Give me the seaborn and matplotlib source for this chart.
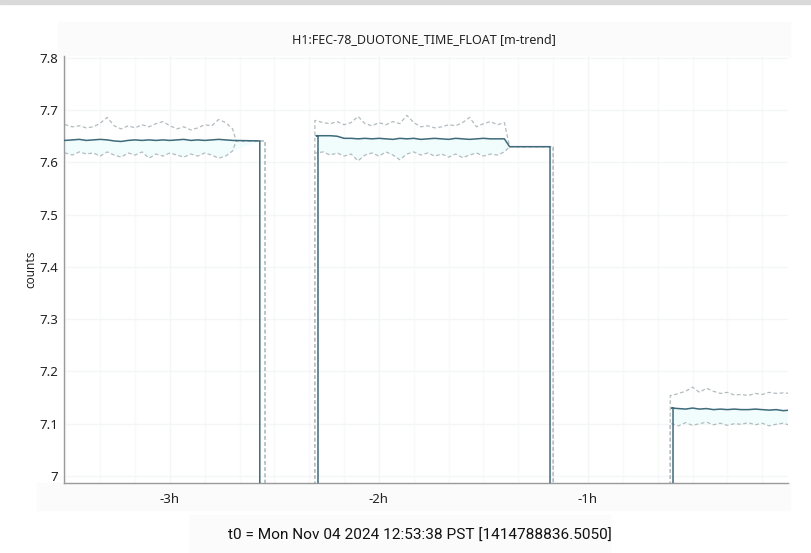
import numpy as np
import matplotlib.pyplot as plt
import seaborn as sns
from matplotlib.patches import Rectangle
from matplotlib.ticker import FuncFormatter, MultipleLocator

sns.set_theme(style='white')
plt.rcParams['font.family'] = ['Noto Sans', 'DejaVu Sans']

# minute-trend data, time in minutes relative to t0
# segment 1
seg1_t = [-212, -210, -208, -206, -204, -202, -200, -198, -196, -194, -192, -190, -188,
          -186, -184, -182, -180, -178, -176, -174, -172, -170, -168, -166, -164, -162]
seg1_mean = [7.643, 7.642, 7.643, 7.644, 7.642, 7.643, 7.644, 7.643, 7.641, 7.640, 7.642, 7.643, 7.642,
             7.643, 7.642, 7.643, 7.642, 7.643, 7.644, 7.642, 7.643, 7.642, 7.643, 7.644, 7.643, 7.642]
seg1_max = [7.670, 7.672, 7.668, 7.670, 7.666, 7.668, 7.675, 7.686, 7.670, 7.664, 7.670, 7.666, 7.672,
            7.668, 7.674, 7.678, 7.670, 7.664, 7.668, 7.662, 7.666, 7.672, 7.670, 7.682, 7.676, 7.664]
seg1_min = [7.616, 7.618, 7.614, 7.620, 7.616, 7.618, 7.612, 7.620, 7.614, 7.610, 7.618, 7.614, 7.620,
            7.608, 7.616, 7.612, 7.618, 7.614, 7.610, 7.616, 7.612, 7.618, 7.614, 7.608, 7.612, 7.622]
seg1_flat = 7.641
seg1_mean_end, seg1_band_end = -154.2, -152.7

# segment 2
seg2_t = [-138, -136, -134, -132, -130, -128, -126, -124, -122, -120, -118, -116, -114, -112,
          -110, -108, -106, -104, -102, -100, -98, -96, -94, -92, -90, -88, -86, -84]
seg2_mean = [7.651, 7.651, 7.651, 7.650, 7.646, 7.646, 7.645, 7.646, 7.645, 7.646, 7.645, 7.644, 7.646, 7.645,
             7.646, 7.644, 7.645, 7.646, 7.645, 7.644, 7.646, 7.645, 7.644, 7.645, 7.646, 7.645, 7.645, 7.645]
seg2_max = [7.680, 7.676, 7.674, 7.678, 7.672, 7.676, 7.688, 7.674, 7.670, 7.676, 7.672, 7.678, 7.674, 7.690,
            7.676, 7.668, 7.670, 7.666, 7.668, 7.672, 7.670, 7.676, 7.686, 7.668, 7.674, 7.678, 7.672, 7.676]
seg2_min = [7.618, 7.620, 7.614, 7.618, 7.612, 7.616, 7.603, 7.614, 7.618, 7.612, 7.620, 7.614, 7.605, 7.616,
            7.620, 7.614, 7.618, 7.612, 7.616, 7.610, 7.616, 7.609, 7.614, 7.618, 7.612, 7.616, 7.614, 7.620]
seg2_flat = 7.630
seg2_flat_start = -82.5
seg2_band_start, seg2_mean_start = -138.4, -137.5
seg2_mean_end, seg2_band_end = -70.9, -70.0

# segment 3
seg3_t = [-36, -34, -32, -30, -28, -26, -24, -22, -20, -18, -16, -14, -12, -10, -8, -6, -4, -2]
seg3_mean = [7.130, 7.129, 7.128, 7.130, 7.128, 7.129, 7.127, 7.128, 7.127,
             7.128, 7.127, 7.127, 7.128, 7.127, 7.126, 7.127, 7.125, 7.126]
seg3_max = [7.154, 7.158, 7.162, 7.170, 7.160, 7.168, 7.162, 7.158, 7.160,
            7.155, 7.156, 7.154, 7.158, 7.156, 7.160, 7.158, 7.159, 7.158]
seg3_min = [7.100, 7.096, 7.102, 7.097, 7.100, 7.103, 7.098, 7.101, 7.097,
            7.100, 7.099, 7.102, 7.098, 7.101, 7.096, 7.099, 7.101, 7.097]
seg3_band_start, seg3_mean_start = -36.4, -35.6
gap_value = 0.0

x_ticks = [-180, -120, -60]
x_tick_labels = ['-3h', '-2h', '-1h']
y_ticks = [7.0, 7.1, 7.2, 7.3, 7.4, 7.5, 7.6, 7.7, 7.8]
title = 'H1:FEC-78_DUOTONE_TIME_FLOAT [m-trend]'
t0_label = 't0 = Mon Nov 04 2024 12:53:38 PST [1414788836.5050]'

# assemble the traces (gaps drop to zero, off the bottom of the view)
mean_t = (seg1_t + [seg1_mean_end, seg1_mean_end, seg2_mean_start, seg2_mean_start] + seg2_t
          + [seg2_flat_start, seg2_mean_end, seg2_mean_end, seg3_mean_start, seg3_mean_start] + seg3_t)
mean_v = (seg1_mean + [seg1_flat, gap_value, gap_value, seg2_mean[0]] + seg2_mean
          + [seg2_flat, seg2_flat, gap_value, gap_value, seg3_mean[0]] + seg3_mean)
band_t = (seg1_t + [-161.0, seg1_band_end, seg1_band_end, seg2_band_start, seg2_band_start] + seg2_t
          + [seg2_flat_start, seg2_band_end, seg2_band_end, seg3_band_start, seg3_band_start] + seg3_t)
band_hi = (seg1_max + [seg1_flat, seg1_flat, gap_value, gap_value, seg2_max[0]] + seg2_max
           + [seg2_flat, seg2_flat, gap_value, gap_value, seg3_max[0]] + seg3_max)
band_lo = (seg1_min + [seg1_flat, seg1_flat, gap_value, gap_value, seg2_min[0]] + seg2_min
           + [seg2_flat, seg2_flat, gap_value, gap_value, seg3_min[0]] + seg3_min)

MEAN_COLOR = '#3e6a7a'
BAND_COLOR = '#b3bbbf'
FILL_COLOR = '#f1fcfc'

fig = plt.figure(figsize=(8.12, 5.53), dpi=100, facecolor='white')

# panel backgrounds (title strip, axis strip, t0 strip, window border)
panels = [((0, 1 - 4 / 553), 1, 4 / 553, '#d9d9d9'),
          ((58 / 812, 1 - 57 / 553), 732 / 812, 35 / 553, '#fbfbfb'),
          ((37 / 812, 1 - 510 / 553), 753 / 812, 27 / 553, '#fbfbfb'),
          ((190 / 812, 0), 420 / 812, 38 / 553, '#fbfbfb')]
for xy, w, h, c in panels:
    fig.patches.append(Rectangle(xy, w, h, transform=fig.transFigure, color=c, zorder=-10))

ax = fig.add_axes([64 / 812, 70 / 553, 724 / 812, 427 / 553])
ax.set_zorder(5)
ax.set_facecolor('white')

ax.fill_between(mean_t, mean_v, np.minimum(mean_v, np.interp(mean_t, band_t, band_lo)),
                color=FILL_COLOR, linewidth=0, zorder=1)
sns.lineplot(x=band_t, y=band_hi, ax=ax, color=BAND_COLOR, linewidth=0.9, linestyle=(0, (3, 2)),
             sort=False, estimator=None, zorder=2)
sns.lineplot(x=band_t, y=band_lo, ax=ax, color=BAND_COLOR, linewidth=0.9, linestyle=(0, (3, 2)),
             sort=False, estimator=None, zorder=2)
sns.lineplot(x=mean_t, y=mean_v, ax=ax, color=MEAN_COLOR, linewidth=1.1,
             sort=False, estimator=None, zorder=3)

ax.set_xlim(-210.4, -2.6)
ax.set_ylim(6.9866, 7.8035)
ax.set_xticks(x_ticks)
ax.set_xticklabels(x_tick_labels)
ax.set_yticks(y_ticks)
ax.yaxis.set_major_formatter(FuncFormatter(lambda v, _: f'{v:g}'))
ax.xaxis.set_minor_locator(MultipleLocator(10))
ax.grid(True, which='major', color='#f4f5f6', linewidth=1)
ax.grid(True, which='minor', axis='x', color='#f8f9f9', linewidth=1)
ax.tick_params(axis='both', length=0, labelsize=9.5, colors='#222222', pad=4)
ax.tick_params(axis='x', pad=7)
for side in ['top', 'right']:
    ax.spines[side].set_visible(False)
for side in ['left', 'bottom']:
    ax.spines[side].set_color('#9a9a9a')
    ax.spines[side].set_linewidth(1)
ax.set_xlabel('')
ax.set_ylabel('counts', fontsize=8.5, color='#222222', labelpad=1.5)

fig.text(424 / 812, 1 - 40 / 553, title, ha='center', va='center', fontsize=9, color='#222222')
fig.text(420 / 812, 1 - 536 / 553, t0_label, ha='center', va='center', fontsize=11.1,
         color='#111111', family=['Roboto', 'Noto Sans', 'DejaVu Sans'])

fig.savefig('out.png', dpi=100)
